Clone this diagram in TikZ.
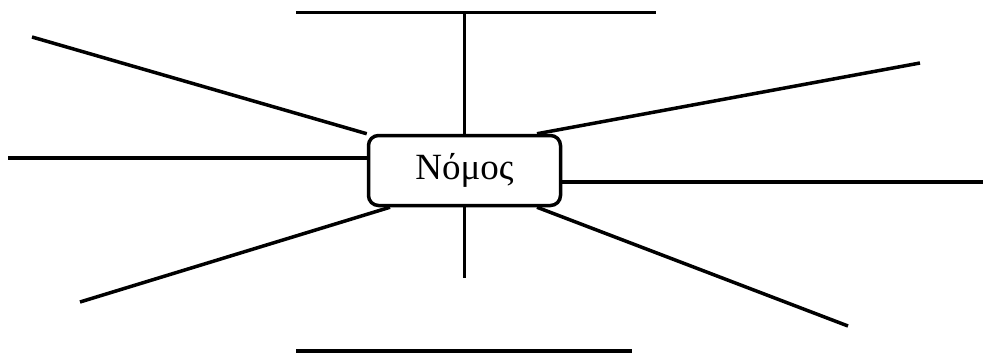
\documentclass[tikz,border=0pt]{standalone}
\usepackage{fontspec}
\setmainfont{Liberation Serif}
\usepackage{tikz}

\begin{document}
\begin{tikzpicture}[x=1pt,y=-1pt,line join=round,
  box/.style={draw,line width=3.5pt,rounded corners=10pt,inner sep=0pt,
    minimum width=192pt,minimum height=70pt,font=\fontsize{37}{42}\selectfont},
  spoke/.style={line width=3.5pt}]
\useasboundingbox (0,0) rectangle (983,353);
\node [box] (law) at (464.5,170.5) {Νόμος};
% free ends
\coordinate (topl) at (296,12.5);
\coordinate (topr) at (656,12.5);
\coordinate (topm) at (464.5,12.5);
\coordinate (ul) at (32,37);
\coordinate (ml) at (8,158);
\coordinate (ll) at (80,302);
\coordinate (ur) at (920,63);
\coordinate (mr) at (983,182);
\coordinate (lr) at (848,326);
\coordinate (botm) at (464.5,278);
\coordinate (botl) at (296,351);
\coordinate (botr) at (632,351);
\draw [spoke] (topl) -- (topr);
\draw [spoke] (law.north) -- (topm);
\draw [spoke] (law.north west) -- (ul);
\draw [spoke] ([yshift=12.5pt]law.west) -- (ml);
\draw [spoke] ([xshift=-74.5pt]law.south) -- (ll);
\draw [spoke] ([xshift=72.5pt]law.north) -- (ur);
\draw [spoke] ([yshift=-11.5pt]law.east) -- (mr);
\draw [spoke] ([xshift=72.5pt]law.south) -- (lr);
\draw [spoke] (law.south) -- (botm);
\draw [spoke] (botl) -- (botr);
\end{tikzpicture}
\end{document}
